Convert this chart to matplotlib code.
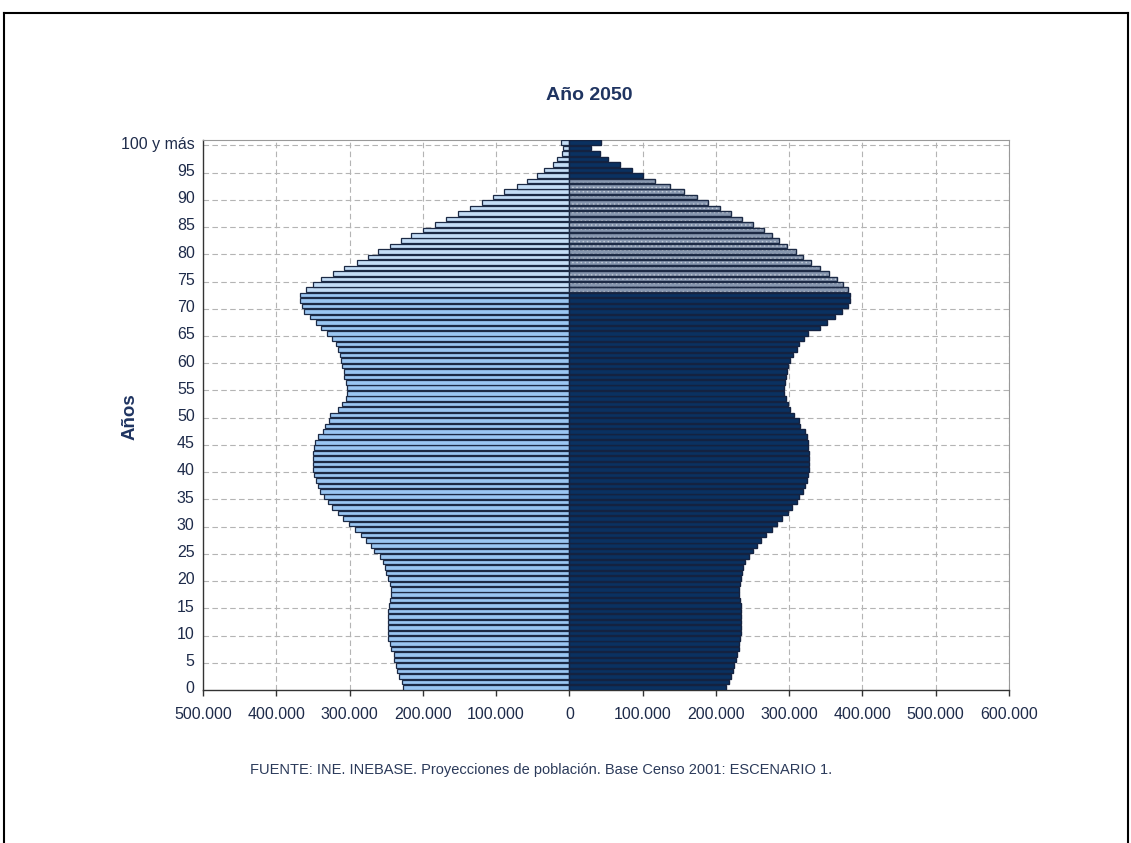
import numpy as np
import matplotlib.pyplot as plt
from matplotlib.ticker import FuncFormatter

plt.rcParams['font.family'] = ['Liberation Sans', 'DejaVu Sans']
plt.rcParams['hatch.linewidth'] = 0.6

# Población por edad simple (miles), proyección 2050
edades = np.arange(101)
hombres = [227, 229, 232, 235, 237, 239, 240, 243, 245, 247,
           248, 248, 248, 248, 248, 246, 245, 244, 244, 245,
           247, 250, 252, 255, 259, 266, 271, 278, 285, 293,
           301, 309, 316, 324, 330, 335, 340, 343, 346, 348,
           350, 350, 350, 350, 349, 347, 343, 336, 333, 328,
           326, 316, 310, 305, 304, 304, 305, 307, 308, 310,
           311, 313, 316, 319, 324, 331, 339, 346, 354, 362,
           365, 368, 367, 360, 350, 339, 323, 308, 290, 275,
           261, 245, 230, 216, 200, 183, 168, 152, 135, 119,
           104, 89, 71, 58, 44, 34, 23, 17, 10, 9,
           12]
mujeres = [214, 218, 220, 223, 225, 228, 229, 231, 232, 233,
           234, 234, 234, 234, 234, 234, 233, 232, 232, 233,
           234, 235, 237, 240, 245, 251, 256, 262, 269, 276,
           283, 290, 298, 304, 310, 314, 319, 322, 324, 326,
           327, 327, 327, 327, 326, 325, 324, 322, 315, 314,
           307, 301, 298, 295, 293, 293, 294, 295, 297, 299,
           301, 305, 310, 314, 320, 326, 342, 352, 363, 372,
           380, 383, 383, 380, 373, 365, 354, 342, 330, 319,
           309, 297, 286, 277, 265, 250, 236, 221, 205, 189,
           174, 156, 137, 117, 100, 85, 69, 53, 42, 30,
           43]
etiquetas = [str(e) for e in range(0, 100, 5)] + ['100 y más']

h = -np.array(hombres) * 1000
m = np.array(mujeres) * 1000

fig = plt.figure(figsize=(11.31, 8.43), dpi=100)
ax = fig.add_axes([203 / 1131, 1 - 690 / 843, 806 / 1131, 550 / 843])

alto = 0.84
borde = '#1c2a45'

# hombres a la izquierda
mayores = edades >= 73
ax.barh(edades[~mayores], h[~mayores], height=alto, color='#9ac6f2',
        edgecolor=borde, lw=0.9, zorder=3)
ax.barh(edades[mayores], h[mayores], height=alto, color='#c4ddf6',
        edgecolor=borde, lw=0.9, zorder=3)

# mujeres a la derecha, tramo 73-93 con trama
oscuras = (edades <= 72) | (edades >= 94)
ax.barh(edades[oscuras], m[oscuras], height=alto, color='#0a3161',
        edgecolor='#142240', lw=1.0, zorder=3)
ax.barh(edades[~oscuras], m[~oscuras], height=alto, color='#8797af',
        edgecolor='#c3ccd9', hatch='....', lw=0, zorder=3)
ax.barh(edades[~oscuras], m[~oscuras], height=alto, fill=False,
        edgecolor=borde, lw=1.0, zorder=4)

# rejilla discontinua
for x in range(-400000, 600001, 100000):
    ax.axvline(x, color='#b4b4b4', ls=(0, (5, 3)), lw=0.8, zorder=1)
for a in range(5, 101, 5):
    ax.axhline(a - 0.5, color='#b4b4b4', ls=(0, (5, 3)), lw=0.8, zorder=1)

ax.set_xlim(-500000, 600000)
ax.set_ylim(-0.5, 100.5)

texto = '#1e2b4a'
ax.set_yticks(edades[::5])
ax.set_yticklabels(etiquetas)
ax.set_xticks(range(-500000, 600001, 100000))
ax.xaxis.set_major_formatter(FuncFormatter(lambda v, p: f'{abs(int(v)):,}'.replace(',', '.')))
ax.tick_params(axis='y', length=0, pad=6, labelsize=11.5, labelcolor=texto)
ax.tick_params(axis='x', length=4, width=1, color='#333333', pad=8,
               labelsize=11.5, labelcolor=texto)

for lado in ['left', 'bottom']:
    ax.spines[lado].set_color('#333333')
    ax.spines[lado].set_linewidth(1)
for lado in ['top', 'right']:
    ax.spines[lado].set_color('#999999')
    ax.spines[lado].set_linewidth(0.8)

fig.text(589 / 1131, 1 - 96 / 843, 'Año 2050', ha='center', va='center',
         fontsize=14, fontweight='bold', color='#1f3461')
fig.text(130 / 1131, 1 - 417 / 843, 'Años', ha='center', va='center',
         rotation=90, fontsize=13.5, fontweight='bold', color='#1f3461')
fig.text(541 / 1131, 1 - 770 / 843,
         'FUENTE: INE. INEBASE. Proyecciones de población. Base Censo 2001: ESCENARIO 1.',
         ha='center', va='center', fontsize=10.5, color='#2b3a5a')

# marco exterior
y0 = 1 - 12.5 / 843
fig.add_artist(plt.Line2D([4 / 1131, 1127.5 / 1131], [y0, y0], transform=fig.transFigure, color='black', lw=1.5))
fig.add_artist(plt.Line2D([4 / 1131, 4 / 1131], [0, y0], transform=fig.transFigure, color='black', lw=1.5))
fig.add_artist(plt.Line2D([1127.5 / 1131, 1127.5 / 1131], [0, y0], transform=fig.transFigure, color='black', lw=1.5))

fig.savefig('out.png', dpi=100)
